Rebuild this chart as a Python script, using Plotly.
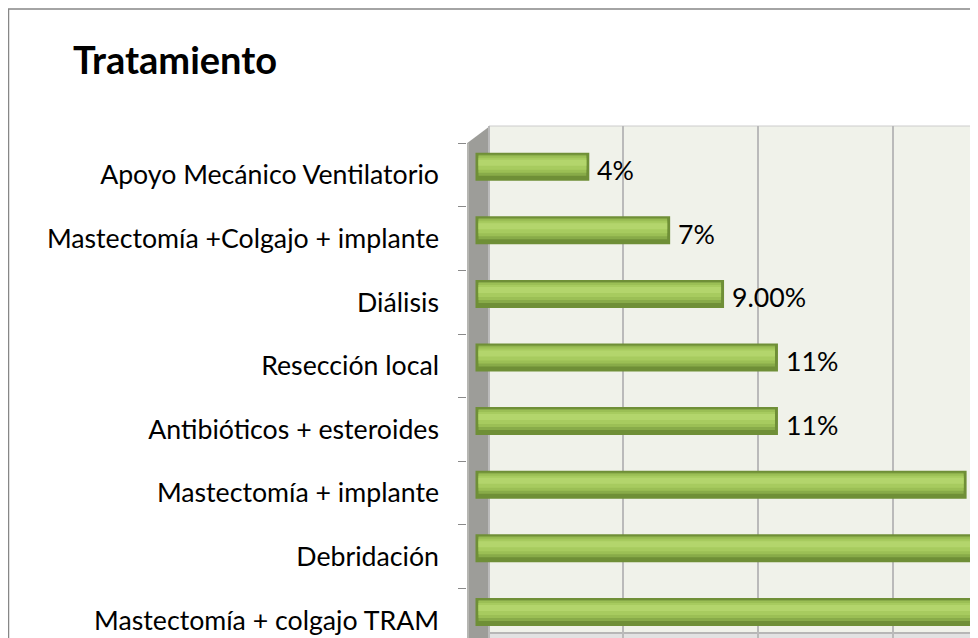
import plotly.graph_objects as go

# ---------------- data ----------------
categories = [
    "Apoyo Mecánico Ventilatorio",
    "Mastectomía +Colgajo + implante",
    "Diálisis",
    "Resección local",
    "Antibióticos + esteroides",
    "Mastectomía + implante",
    "Debridación",
    "Mastectomía + colgajo TRAM",
]
values = [4, 7, 9, 11, 11, 18, 20, 20]
value_labels = ["4%", "7%", "9.00%", "11%", "11%", "18%", "20%", "20%"]
title_text = "Tratamiento"

# ---------------- layout geometry (window pixels) ----------------
W, H = 978, 638            # browser window
OFF = 8                    # default page (body) margin in front of the figure
L, T = 467, 126            # plot area left / top (window px)
PX_PER_UNIT = 26.95        # pixels per percentage point
ZERO_PX = 478.5            # window pixel of x = 0 (front plane)
BACK_SHIFT = 10            # 3-D depth offset of the back wall (px)
BAND_TOP = 143.3           # first category boundary
BAND = 63.6                # category band height

def pxx(x):
    return (x - L) / (W - L)

def pxy(y):
    return (H - y) / (H - T)

x_min = (L - ZERO_PX) / PX_PER_UNIT
x_max = (W - ZERO_PX) / PX_PER_UNIT
shift = BACK_SHIFT / PX_PER_UNIT
y_top = -0.5 - (BAND_TOP - T) / BAND
y_bot = -0.5 + (H - BAND_TOP) / BAND

FONT = "Lato"

fig = go.Figure()

# cylinder-like bars built from overlaid layers (pixel extents relative to bar centre)
bar_center = -8.4 / BAND
layers = [
    (-11, 11, "#6f8f37", 6),   # base: rect + outline -> 28 px total, dark rim / end cap
    (-12, 9, "#88ab49", 0),
    (-11, 6, "#9bbf55", 0),
    (-9, 3, "#a7cb5f", 0),
    (-7, -1, "#b3d56c", 0),
]
for top, bot, col, lw in layers:
    w = (bot - top) / BAND
    fig.add_trace(go.Bar(
        x=values, y=categories, orientation="h",
        width=w, offset=bar_center + top / BAND,
        marker=dict(color=col, line=dict(color=col, width=lw)),
        hoverinfo="skip", showlegend=False,
    ))

# helper (invisible) trace so the back-wall grid axis is drawn
fig.add_trace(go.Scatter(
    x=[values[0]], y=[categories[0]], xaxis="x2", yaxis="y",
    mode="markers", marker=dict(opacity=0), hoverinfo="skip", showlegend=False,
))

# value labels
for cat, val, lab in zip(categories, values, value_labels):
    fig.add_annotation(
        x=val, y=cat, xref="x", yref="y", text=lab, showarrow=False,
        xanchor="left", yanchor="middle", xshift=9, yshift=5,
        font=dict(family=FONT, size=26.7, color="#000000"),
    )

shapes = [
    # outer chart border
    dict(type="rect", xref="paper", yref="paper",
         x0=pxx(8.5), x1=pxx(W + 20), y0=pxy(H + 20), y1=pxy(9),
         line=dict(color="#878787", width=1.5), fillcolor="rgba(0,0,0,0)",
         layer="below"),
    # back wall
    dict(type="rect", xref="paper", yref="paper",
         x0=pxx(489), x1=pxx(W + 20), y0=pxy(633), y1=pxy(T),
         line=dict(color="#cccccc", width=1), fillcolor="#f0f2ea",
         layer="below"),
    # floor
    dict(type="rect", xref="paper", yref="paper",
         x0=pxx(470), x1=pxx(W + 20), y0=pxy(H + 20), y1=pxy(633),
         line=dict(color="#a9a9a9", width=1.5), fillcolor="#e2e2e2",
         layer="between"),
    # side wall (3-D)
    dict(type="path", xref="paper", yref="paper",
         path="M {a},{b} L {c},{d} L {c},{e} L {a},{e} Z".format(
             a=pxx(L), b=pxy(BAND_TOP), c=pxx(490), d=pxy(T), e=pxy(H + 20)),
         line=dict(color="#9a9a96", width=0), fillcolor="#9d9d99",
         layer="between"),
    dict(type="rect", xref="paper", yref="paper",
         x0=pxx(L), x1=pxx(L + 2), y0=pxy(H + 20), y1=pxy(BAND_TOP),
         line=dict(width=0), fillcolor="#b6b6b2", layer="between"),
]

fig.update_layout(
    width=W - OFF, height=H - OFF,
    margin=dict(l=L - OFF, r=0, t=T - OFF, b=0, pad=0),
    paper_bgcolor="#ffffff", plot_bgcolor="#ffffff",
    barmode="overlay",
    title=dict(text="<b>" + title_text + "</b>", xref="container", yref="container",
               x=(73 - OFF) / (W - OFF), xanchor="left",
               y=1 - (61 - OFF) / (H - OFF), yanchor="middle",
               font=dict(family=FONT, size=38, color="#000000")),
    xaxis=dict(range=[x_min, x_max], showticklabels=False, showgrid=False,
               zeroline=False, showline=False, ticks=""),
    xaxis2=dict(overlaying="x", anchor="y", range=[x_min - shift, x_max - shift],
                tickmode="linear", tick0=0, dtick=5, showticklabels=False,
                showgrid=True, gridcolor="#bababa", gridwidth=2,
                zeroline=False, showline=False, ticks=""),
    yaxis=dict(type="category", categoryorder="array", categoryarray=categories,
               range=[y_bot, y_top], tickson="boundaries", ticks="outside",
               ticklen=8, tickcolor="#8a8a8a", tickwidth=1.2,
               showgrid=False, zeroline=False, showline=False,
               ticklabelstandoff=27,
               tickfont=dict(family=FONT, size=26.7, color="#000000")),
    shapes=shapes,
)

fig.write_html("out.html")
